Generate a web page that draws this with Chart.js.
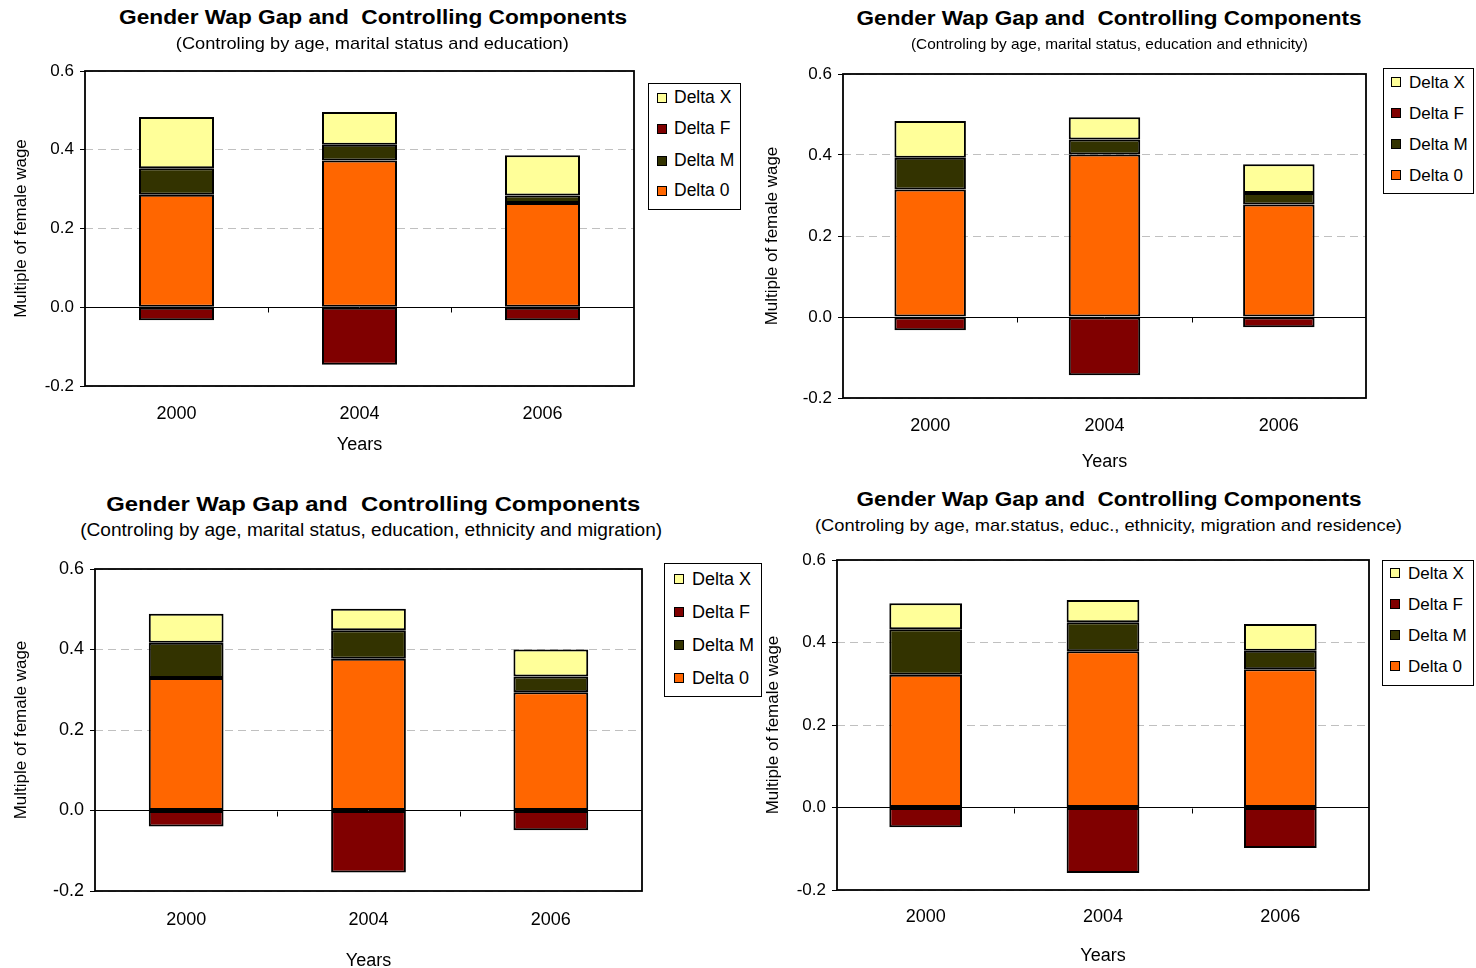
<!DOCTYPE html>
<html><head><meta charset="utf-8">
<script src="https://cdn.jsdelivr.net/npm/chart.js@4/dist/chart.umd.min.js"></script>
<style>
html,body{margin:0;padding:0;background:#fff}
body{width:1476px;height:968px;position:relative;overflow:hidden;font-family:"Liberation Sans",Arial,sans-serif;color:#000}
canvas{position:absolute}
.t{position:absolute;white-space:pre;transform-origin:center center;color:#000}
.leg{position:absolute;border:1px solid #000;box-sizing:border-box;background:#fff}
.sw{position:absolute;width:10px;height:10px;border:1px solid #000;box-sizing:border-box}
.lt{position:absolute;white-space:pre;color:#000}
</style></head><body>
<script>
// ---------------- data ----------------
const years = ['2000', '2004', '2006'];
const seriesNames = ['Delta 0', 'Delta M', 'Delta F', 'Delta X'];
const legendOrder = [3, 2, 1, 0];
const yTickValues = [-0.2, 0.0, 0.2, 0.4, 0.6];
const chartTitle = 'Gender Wap Gap and  Controlling Components';
const xAxisTitle = 'Years';
const yAxisTitle = 'Multiple of female wage';
const subtitles = [
  '(Controling by age, marital status and education)',
  '(Controling by age, marital status, education and ethnicity)',
  '(Controling by age, marital status, education, ethnicity and migration)',
  '(Controling by age, mar.status, educ., ethnicity, migration and residence)'
];

// chart 1: age, marital status, education
const delta0_1 = [0.286, 0.373, 0.265];
const deltaM_1 = [0.067, 0.040, 0.019];
const deltaF_1 = [-0.033, -0.146, -0.033];
const deltaX_1 = [0.130, 0.083, 0.102];
// chart 2: + ethnicity
const delta0_2 = [0.315, 0.401, 0.278];
const deltaM_2 = [0.078, 0.037, 0.028];
const deltaF_2 = [-0.033, -0.144, -0.025];
const deltaX_2 = [0.091, 0.055, 0.071];
// chart 3: + migration
const delta0_3 = [0.329, 0.377, 0.294];
const deltaM_3 = [0.088, 0.071, 0.039];
const deltaF_3 = [-0.040, -0.154, -0.049];
const deltaX_3 = [0.072, 0.053, 0.067];
// chart 4: + residence
const delta0_4 = [0.322, 0.379, 0.335];
const deltaM_4 = [0.110, 0.070, 0.045];
const deltaF_4 = [-0.048, -0.159, -0.098];
const deltaX_4 = [0.063, 0.054, 0.065];

const chartData = [
  [delta0_1, deltaM_1, deltaF_1, deltaX_1],
  [delta0_2, deltaM_2, deltaF_2, deltaX_2],
  [delta0_3, deltaM_3, deltaF_3, deltaX_3],
  [delta0_4, deltaM_4, deltaF_4, deltaX_4]
];

// ---------------- styles / layout ----------------
const seriesColors = ['#FF6600', '#333300', '#800000', '#FFFF99'];
const FONT = '"Liberation Sans", Arial, sans-serif';
const TOPPAD = 24;

const layouts = [
  { plot:[85,71,634,386], canvasLeft:0,   yTitleX:21,  xLabY:414, yearsY:445, tickFs:17, xFs:18, yTitleFs:17,
    title:{cx:373,cy:17,w:508,fs:20}, sub:{cx:372.5,cy:43,w:393,fs:17},
    legend:{x:648,y:83,w:93,h:127,rows:[97,128,160,190],sw:656,tx:673,fs:17.5} },
  { plot:[843,74,1366,398], canvasLeft:755, yTitleX:772, xLabY:426, yearsY:462, tickFs:17, xFs:18, yTitleFs:17,
    title:{cx:1109.5,cy:18,w:505,fs:20}, sub:{cx:1109.5,cy:43,w:397,fs:15},
    legend:{x:1383,y:68,w:91,h:126,rows:[81,112,143,174],sw:1390,tx:1408,fs:17} },
  { plot:[95,569,642,891], canvasLeft:0,   yTitleX:21,  xLabY:920, yearsY:961, tickFs:18, xFs:18, yTitleFs:17,
    title:{cx:373,cy:503,w:534,fs:21}, sub:{cx:371,cy:530,w:582,fs:18},
    legend:{x:664,y:563,w:98,h:134,rows:[578,611,644,677],sw:673,tx:691,fs:18} },
  { plot:[837,560,1369,890], canvasLeft:755, yTitleX:773, xLabY:917, yearsY:956, tickFs:17, xFs:18, yTitleFs:17,
    title:{cx:1109.5,cy:499,w:505,fs:20}, sub:{cx:1108.5,cy:525,w:587,fs:17},
    legend:{x:1382,y:560,w:92,h:126,rows:[572,603,634,665],sw:1389,tx:1407,fs:17} }
];

function placeText(txt, cx, cy, fs, weight, targetW) {
  const el = document.createElement('div');
  el.className = 't';
  el.textContent = txt;
  el.style.font = `${weight} ${fs}px ${FONT}`;
  el.style.lineHeight = fs + 'px';
  document.body.appendChild(el);
  const w = el.getBoundingClientRect().width;
  const sx = targetW ? targetW / w : 1;
  el.style.left = (cx - w / 2) + 'px';
  el.style.top = (cy - fs * 0.49) + 'px';
  el.style.transform = `scaleX(${sx})`;
}

function placeLegend(L) {
  const box = document.createElement('div');
  box.className = 'leg';
  box.style.left = L.x + 'px'; box.style.top = L.y + 'px';
  box.style.width = L.w + 'px'; box.style.height = L.h + 'px';
  document.body.appendChild(box);
  legendOrder.forEach((si, r) => {
    const sw = document.createElement('div');
    sw.className = 'sw';
    sw.style.background = seriesColors[si];
    sw.style.left = (L.sw - L.x) + 'px';
    sw.style.top = (L.rows[r] - 5 - L.y) + 'px';
    box.appendChild(sw);
    const t = document.createElement('div');
    t.className = 'lt';
    t.textContent = seriesNames[si];
    t.style.font = `${L.fs}px ${FONT}`;
    t.style.lineHeight = L.fs + 'px';
    t.style.left = (L.tx - L.x) + 'px';
    t.style.top = (L.rows[r] - L.fs * 0.49 - L.y) + 'px';
    box.appendChild(t);
  });
}

const framePlugin = {
  id: 'frame',
  afterDraw(chart) {
    const {ctx, chartArea: a, scales: {x, y}} = chart;
    ctx.save();
    // category boundary ticks on the zero line
    const y0 = Math.round(y.getPixelForValue(0)) + 0.5;
    ctx.strokeStyle = '#000';
    ctx.lineWidth = 1;
    ctx.beginPath();
    for (let i = 0; i < years.length - 1; i++) {
      const bx = Math.round((x.getPixelForValue(i) + x.getPixelForValue(i + 1)) / 2) + 0.5;
      ctx.moveTo(bx, y0);
      ctx.lineTo(bx, y0 + 5);
    }
    ctx.stroke();
    // plot frame
    ctx.lineWidth = 1.8;
    ctx.strokeRect(a.left, a.top, a.right - a.left, a.bottom - a.top);
    ctx.restore();
  }
};

layouts.forEach((L, ci) => {
  const [pl, pt, pr, pb] = L.plot;
  const canvasTop = pt - TOPPAD;
  const canvasRight = pr + 10;
  const canvasBottom = L.yearsY + 14;
  const yAxW = pl - L.canvasLeft;
  const xAxH = canvasBottom - pb;
  const cv = document.createElement('canvas');
  cv.width = canvasRight - L.canvasLeft;
  cv.height = canvasBottom - canvasTop;
  cv.style.left = L.canvasLeft + 'px';
  cv.style.top = canvasTop + 'px';
  document.body.appendChild(cv);

  const xLH = L.xFs * 1.2, yTLH = L.yTitleFs * 1.2;
  const ds = chartData[ci].map((vals, si) => ({
    label: seriesNames[si],
    data: vals,
    backgroundColor: seriesColors[si],
    borderColor: '#000',
    borderWidth: 2,
    borderSkipped: false,
    barPercentage: 0.41,
    categoryPercentage: 1.0
  }));

  new Chart(cv, {
    type: 'bar',
    data: { labels: years, datasets: ds },
    options: {
      responsive: false,
      animation: false,
      layout: { padding: { top: TOPPAD, right: 10, left: 0, bottom: 0 } },
      plugins: { legend: { display: false }, tooltip: { enabled: false } },
      scales: {
        x: {
          stacked: true,
          grid: { display: false, drawTicks: false },
          border: { display: false },
          ticks: { color: '#000', padding: L.xLabY - pb - xLH / 2, font: { family: FONT, size: L.xFs } },
          title: { display: true, text: xAxisTitle, color: '#000',
                   font: { family: FONT, size: L.xFs },
                   padding: { top: 0, bottom: 14 - xLH / 2 } },
          afterFit: s => { s.height = xAxH; }
        },
        y: {
          stacked: true,
          min: yTickValues[0],
          max: yTickValues[yTickValues.length - 1],
          afterBuildTicks: s => { s.ticks = yTickValues.map(v => ({ value: v })); },
          ticks: { color: '#000', padding: 6, font: { family: FONT, size: L.tickFs },
                   callback: v => Number(v).toFixed(1) },
          grid: {
            color: c => (c.tick && Math.abs(c.tick.value) < 1e-9) ? '#000' : '#c0c0c0',
            lineWidth: 1,
            drawTicks: true,
            tickLength: 5,
            tickColor: '#000'
          },
          border: { display: false, dash: c => (c.tick && Math.abs(c.tick.value) < 1e-9) ? [] : [8, 5] },
          title: { display: true, text: yAxisTitle, color: '#000',
                   font: { family: FONT, size: L.yTitleFs },
                   padding: { top: L.yTitleX - L.canvasLeft - yTLH / 2, bottom: 0 } },
          afterFit: s => { s.width = yAxW; }
        }
      }
    },
    plugins: [framePlugin]
  });

  placeText(chartTitle, L.title.cx, L.title.cy, L.title.fs, 'bold', L.title.w);
  placeText(subtitles[ci], L.sub.cx, L.sub.cy, L.sub.fs, 'normal', L.sub.w);
  placeLegend(L.legend);
});
</script>
</body></html>
